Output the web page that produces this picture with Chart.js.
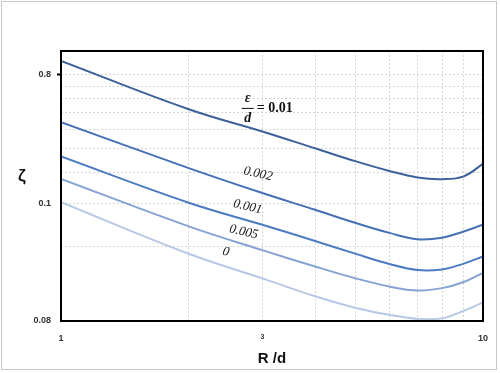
<!DOCTYPE html>
<html>
<head>
<meta charset="utf-8">
<script src="https://cdn.jsdelivr.net/npm/chart.js@4/dist/chart.umd.min.js"></script>
<style>
  html, body { margin: 0; padding: 0; background: #fff; }
  #wrap { width: 500px; height: 373px; position: relative; }
</style>
</head>
<body>
<div id="wrap"><canvas id="c" width="500" height="373"></canvas></div>
<script>
// ---- data (y in grid units of the log axis) ----
const xValues = [1, 2, 3, 4, 5, 6, 7, 8, 9, 10];
const seriesE001  = [11.4, 7.27, 5.89, 5.03, 4.45, 4.07, 3.83, 3.77, 3.87, 4.35];
const seriesE0002 = [6.42, 4.19, 3.31, 2.83, 2.50, 2.28, 2.15, 2.18, 2.31, 2.46];
const seriesE0001 = [4.66, 3.03, 2.46, 2.115, 1.873, 1.705, 1.61, 1.62, 1.71, 1.83];
const seriesE0005 = [3.78, 2.43, 1.94, 1.665, 1.489, 1.381, 1.33, 1.36, 1.44, 1.57];
const seriesE0    = [3.04, 1.88, 1.49, 1.26, 1.13, 1.06, 1.02, 1.025, 1.10, 1.19];

const seriesNames = ['0.01', '0.002', '0.001', '0.005', '0'];
const seriesColors = ['#3d619b', '#4670b6', '#4a7bc3', '#86a3d4', '#b7c8e5'];

const xGridValues = [1, 2, 3, 4, 5, 6, 7, 8, 9, 10];
const xTickLabels = { 1: '1', 3: '3', 10: '10' };
const yGridValues = [1, 2, 3, 4, 5, 6, 7, 8, 9, 10];
const yTickLabels = { 1: '0.08', 3: '0.1', 10: '0.8' };
const yMin = 1, yMax = 12.5;

// curve label anchors in data units
const curveLabels = [
  { text: '0.002', x: 2.93, y: 3.96 },
  { text: '0.001', x: 2.77, y: 2.91 },
  { text: '0.005', x: 2.71, y: 2.30 },
  { text: '0',     x: 2.46, y: 1.91 }
];
const mainLabel = { x: 2.77, y: 7.34, value: '0.01' };

const allSeries = [seriesE001, seriesE0002, seriesE0001, seriesE0005, seriesE0];

const datasets = allSeries.map((s, i) => ({
  label: seriesNames[i],
  data: s.map((v, j) => ({ x: xValues[j], y: v })),
  borderColor: seriesColors[i],
  borderWidth: 2,
  pointRadius: 0,
  tension: 0.4,
  fill: false
}));

const decorPlugin = {
  id: 'decor',
  beforeDraw(chart) {
    const ctx = chart.ctx;
    ctx.save();
    ctx.fillStyle = '#fff';
    ctx.fillRect(0, 0, chart.width, chart.height);
    ctx.strokeStyle = '#c9c9c9';
    ctx.lineWidth = 1;
    ctx.strokeRect(1.5, 1.5, 495, 368);
    ctx.restore();
  },
  afterDatasetsDraw(chart) {
    const ctx = chart.ctx;
    const a = chart.chartArea;
    const xs = chart.scales.x, ys = chart.scales.y;
    ctx.save();
    // frame
    ctx.strokeStyle = '#000';
    ctx.lineWidth = 2;
    ctx.strokeRect(a.left, a.top, a.right - a.left, a.bottom - a.top);

    // curve labels
    ctx.fillStyle = '#222';
    ctx.font = 'italic 13px "Liberation Serif", serif';
    ctx.textAlign = 'center';
    ctx.textBaseline = 'middle';
    curveLabels.forEach(l => {
      const px = xs.getPixelForValue(l.x), py = ys.getPixelForValue(l.y);
      ctx.save();
      ctx.translate(px, py);
      ctx.rotate(13 * Math.PI / 180);
      ctx.fillText(l.text, 0, 0);
      ctx.restore();
    });

    // epsilon / d = 0.01
    const cx = xs.getPixelForValue(mainLabel.x), cy = ys.getPixelForValue(mainLabel.y);
    ctx.fillStyle = '#111';
    ctx.font = 'bold italic 14px "Liberation Serif", serif';
    ctx.fillText('ε', cx, cy - 10);
    ctx.fillText('d', cx, cy + 10);
    ctx.strokeStyle = '#111';
    ctx.lineWidth = 1;
    ctx.beginPath();
    ctx.moveTo(cx - 6, cy + 0.5);
    ctx.lineTo(cx + 6, cy + 0.5);
    ctx.stroke();
    ctx.font = 'bold 14px "Liberation Serif", serif';
    ctx.textAlign = 'left';
    ctx.fillText('= ' + mainLabel.value, cx + 9, cy);

    // y title
    ctx.font = 'bold 17px "Liberation Sans", sans-serif';
    ctx.textAlign = 'center';
    ctx.fillStyle = '#111';
    ctx.fillText('ζ', 22, 176);
    ctx.restore();
  }
};

new Chart(document.getElementById('c'), {
  type: 'line',
  data: { datasets },
  options: {
    responsive: false,
    animation: false,
    devicePixelRatio: 1,
    layout: { padding: { top: 51, right: 17, left: 0, bottom: 0 } },
    plugins: { legend: { display: false }, tooltip: { enabled: false } },
    scales: {
      x: {
        type: 'logarithmic',
        min: 1, max: 10,
        afterBuildTicks(scale) { scale.ticks = xGridValues.map(v => ({ value: v })); },
        afterFit(scale) { scale.height = 52; },
        ticks: {
          autoSkip: false, maxRotation: 0, padding: 12, color: '#333',
          font: (c) => ({ family: '"Liberation Sans", sans-serif', weight: 'bold', size: (c.tick && c.tick.value === 3) ? 7 : 9 }),
          callback: (v) => xTickLabels[v] || ''
        },
        grid: { color: '#d6d6d6', lineWidth: 1, drawTicks: false },
        border: { display: false, dash: [2, 2] },
        title: {
          display: true, text: 'R /d', color: '#111',
          font: { family: '"Liberation Sans", sans-serif', weight: 'bold', size: 15 },
          padding: { top: 0, bottom: 5 }
        }
      },
      y: {
        type: 'logarithmic',
        min: yMin, max: yMax,
        afterBuildTicks(scale) { scale.ticks = yGridValues.map(v => ({ value: v })); },
        afterFit(scale) { scale.width = 61; },
        ticks: {
          autoSkip: false, padding: 6, color: '#333',
          font: { family: '"Liberation Sans", sans-serif', weight: 'bold', size: 9 },
          callback: (v) => yTickLabels[v] || ''
        },
        grid: {
          color: '#d6d6d6', lineWidth: 1, drawTicks: true, tickLength: 4, tickWidth: 2,
          tickColor: (c) => (c.tick && c.tick.value === 10) ? '#000' : 'rgba(0,0,0,0)'
        },
        border: { display: false, dash: [2, 2] }
      }
    }
  },
  plugins: [decorPlugin]
});
</script>
</body>
</html>
